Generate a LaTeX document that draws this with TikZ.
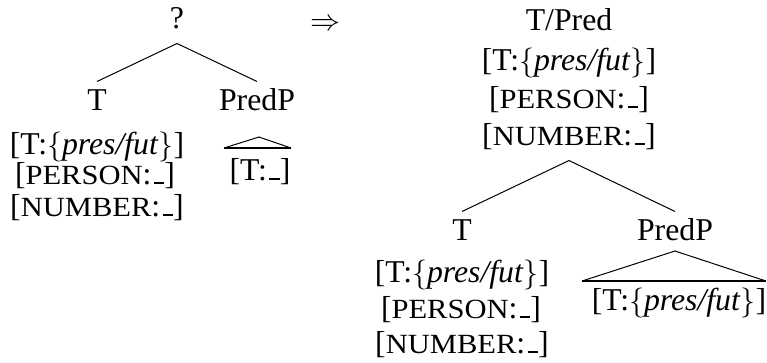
\documentclass[tikz,border=0pt]{standalone}
\usepackage{fontspec}
\setmainfont{Liberation Serif}
\newfontfamily\scfont[FakeStretch=1.1]{Liberation Serif}
\usepackage{tikz}
\usetikzlibrary{positioning}

\newcommand{\feat}[1]{{\scfont\fontsize{11.1}{13}\selectfont #1}}
\newcommand{\gapval}{\kern1pt\rule{0.33em}{0.85pt}}

\begin{document}
\begin{tikzpicture}[
  x=0.4pt, y=-0.4pt,
  lbl/.style={anchor=base, inner xsep=0pt, inner ysep=3pt, text height=8.2pt,
    text depth=3pt, font=\fontsize{12.7}{15}\selectfont},
  br/.style={line width=0.4pt},
  tribase/.style={line width=0.8pt},
]
\useasboundingbox (0,0) rectangle (767,362);

%--- Linker Baum ---
\node[lbl] (q)   at (177, 28)  {?};
\node[lbl] (lT)  at (97, 110)  {T};
\node[lbl] (lP)  at (257, 110) {PredP};
\node[lbl] (lf1) at (97, 154)  {[T:$\{$\textit{pres/fut}$\}$]};
\node[lbl] (lf2) at (95, 184)  {[\feat{PERSON}:\gapval]};
\node[lbl] (lf3) at (97, 216)  {[\feat{NUMBER}:\gapval]};
\node[lbl] (lPx) at (260, 180) {[T:\gapval]};

\draw[br] (q.south) -- (lT.north);
\draw[br] (q.south) -- (lP.north);

\coordinate (lPtip) at (259, 137);
\coordinate (lPl)   at (224, 148);
\coordinate (lPr)   at (291, 148);
\draw[br] (lPl) -- (lPtip) -- (lPr);
\draw[tribase] (lPl) -- (lPr);

%--- Pfeil ---
\node[lbl] (arr) at (325, 30) {$\Rightarrow$};

%--- Rechter Baum ---
\node[lbl] (rTop) at (569, 30)  {T/Pred};
\node[lbl] (rf1)  at (569, 70)  {[T:$\{$\textit{pres/fut}$\}$]};
\node[lbl] (rf2)  at (569, 108) {[\feat{PERSON}:\gapval]};
\node[lbl] (rf3)  at (569, 145) {[\feat{NUMBER}:\gapval]};

\node[lbl] (rT)   at (462, 240) {T};
\node[lbl] (rP)   at (675, 240) {PredP};
\node[lbl] (rtf1) at (462, 282) {[T:$\{$\textit{pres/fut}$\}$]};
\node[lbl] (rtf2) at (461, 318) {[\feat{PERSON}:\gapval]};
\node[lbl] (rtf3) at (462, 353) {[\feat{NUMBER}:\gapval]};
\node[lbl] (rPx)  at (679, 310) {[T:$\{$\textit{pres/fut}$\}$]};

\draw[br] (rf3.south) -- (rT.north);
\draw[br] (rf3.south) -- (rP.north);

\coordinate (rPtip) at (675, 251);
\coordinate (rPl)   at (582, 281);
\coordinate (rPr)   at (766, 281);
\draw[br] (rPl) -- (rPtip) -- (rPr);
\draw[tribase] (rPl) -- (rPr);

\end{tikzpicture}
\end{document}
